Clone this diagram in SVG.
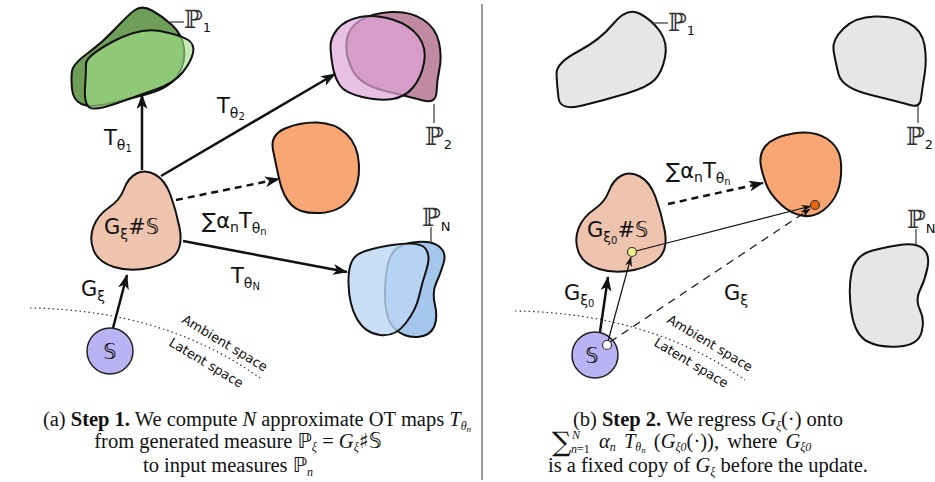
<svg xmlns="http://www.w3.org/2000/svg" width="935" height="482" viewBox="0 0 935 482">
<defs>
<marker id="ah" markerUnits="userSpaceOnUse" markerWidth="15" markerHeight="11" viewBox="0 0 15 11" refX="14" refY="5.5" orient="auto"><path d="M0,0 L15,5.5 L0,11 L4,5.5 Z" fill="#111"/></marker>
<marker id="ahs" markerUnits="userSpaceOnUse" markerWidth="10" markerHeight="7" viewBox="0 0 10 7" refX="9.5" refY="3.5" orient="auto"><path d="M0,0 L10,3.5 L0,7 L3,3.5 Z" fill="#111"/></marker>
</defs>
<style>
.blob{stroke:#111;stroke-width:2;stroke-linejoin:round}
.gray{fill:#e6e6e6}
.lbl{font-family:"DejaVu Sans",sans-serif;font-size:21px;fill:#111}
.s1{font-size:14px}
.s2{font-size:10px}
.bb{font-family:"DejaVu Serif",serif;font-size:25px;fill:#333}
.sub{font-family:"DejaVu Sans",sans-serif;font-size:13px;fill:#111}
.lead{stroke:#333;stroke-width:1.2;fill:none}
.thick{stroke:#111;stroke-width:2.5;fill:none}
.thin{stroke:#111;stroke-width:1.2;fill:none}
.dot{stroke:#333;stroke-width:1.2;fill:none;stroke-dasharray:1.5 3}
.sp{font-family:"DejaVu Sans",sans-serif;font-size:13px;fill:#111}
.cap{font-family:"Liberation Serif",serif;font-size:20.5px;fill:#111}
.ds{font-family:"DejaVu Sans",sans-serif}
.it{font-style:italic}
.cs{font-style:italic;font-size:12px}
</style>
<rect width="935" height="482" fill="#fff"/>
<line x1="482" y1="4" x2="482" y2="480" stroke="#999" stroke-width="2"/>

<!-- LEFT PANEL -->
<g id="P1-left">
<path class="blob" fill="#6e9e58" d="M 88 53 Q 103 42 115.5 28.5 Q 128 15 135 10 Q 142 5 152 10.5 Q 162 16 172 25 Q 182 34 184 48 Q 186 62 178 75 Q 170 88 147.5 94 Q 125 100 107.5 104 Q 90 108 81.5 104 Q 73 100 72 89 Q 71 78 72 71 Q 73 64 88 53 Z"/>
<path class="blob" fill="#a3e289" fill-opacity="0.64" d="M 113 41.5 Q 140 27 160 31 Q 180 35 187.5 39.5 Q 195 44 193 53 Q 191 62 182.5 72.5 Q 174 83 157 89 Q 140 95 117.5 103 Q 95 111 89.5 107.5 Q 84 104 85 88 Q 86 72 86 64 Q 86 56 113 41.5 Z"/>
<line class="lead" x1="170" y1="22" x2="184" y2="22"/>
<text class="bb" x="184" y="28">ℙ<tspan class="sub" dy="4">1</tspan></text>
</g>
<g id="P2-left">
<path class="blob" fill="#c18aa3" d="M 360 20.5 Q 372 13 391 12 Q 410 11 423 19.5 Q 436 28 439 42.5 Q 442 57 439.5 68.5 Q 437 80 436.5 92 Q 436 104 423 100.5 Q 410 97 385 91 Q 360 85 352.5 70 Q 345 55 346.5 41.5 Q 348 28 360 20.5 Z"/>
<path class="blob" fill="#dea5d7" fill-opacity="0.7" d="M 337.5 29 Q 345 20 360 17 Q 375 14 392.5 19.5 Q 410 25 418.5 36.5 Q 427 48 424 63 Q 421 78 413 87.5 Q 405 97 392.5 99 Q 380 101 362.5 97 Q 345 93 340 85.5 Q 335 78 333 68 Q 331 58 330.5 48 Q 330 38 337.5 29 Z"/>
<line class="lead" x1="434" y1="104" x2="434" y2="123"/>
<text class="bb" x="425" y="145">ℙ<tspan class="sub" dy="4">2</tspan></text>
</g>
<g id="target-left">
<path class="blob" fill="#f8a673" d="M 285 128.5 Q 300 122 317.5 122.5 Q 335 123 346.5 134 Q 358 145 359 165 Q 360 185 350 198.5 Q 340 212 320 213 Q 300 214 291.5 205 Q 283 196 279.5 180.5 Q 276 165 273 150 Q 270 135 285 128.5 Z"/>
</g>
<g id="PN-left">
<path class="blob" fill="#a5c7ee" d="M 412.5 242.5 Q 430 240 438.5 246 Q 447 252 443.5 263.5 Q 440 275 436 283.5 Q 432 292 435 305 Q 438 318 434 327 Q 430 336 417.5 337 Q 405 338 395 329 Q 385 320 385 295 Q 385 270 390 257.5 Q 395 245 412.5 242.5 Z"/>
<path class="blob" fill="#bcd6f5" fill-opacity="0.8" d="M 356.5 255.5 Q 365 249 392.5 245 Q 420 241 425.5 248.5 Q 431 256 426.5 269.5 Q 422 283 419 296.5 Q 416 310 405.5 323.5 Q 395 337 380 335 Q 365 333 357 319 Q 349 305 348.5 283.5 Q 348 262 356.5 255.5 Z"/>
<line class="lead" x1="431" y1="227" x2="431" y2="243"/>
<text class="bb" x="422" y="226">ℙ<tspan class="sub" dy="5">N</tspan></text>
</g>
<g id="G-left">
<path class="blob" fill="#eec4ae" d="M 136.5 173.5 Q 145 169 155 174.5 Q 165 180 170.5 195 Q 176 210 179.5 227.5 Q 183 245 175.5 254.5 Q 168 264 149 268 Q 130 272 114 267 Q 98 262 93.5 250 Q 89 238 93.5 226.5 Q 98 215 109 207.5 Q 120 200 124 189 Q 128 178 136.5 173.5 Z"/>
<text class="lbl" x="104" y="234">G<tspan class="s1" dy="5">ξ</tspan><tspan dy="-5">#𝕊</tspan></text>
</g>
<g id="S-left">
<circle cx="110" cy="351" r="23" fill="#b9b3f3" stroke="#222" stroke-width="1.5"/>
<text class="lbl" x="110" y="359" text-anchor="middle">𝕊</text>
</g>
<g id="connectors-left">
<path class="dot" d="M 30 308 Q 165 310 260 378"/>
<line class="thick" x1="142" y1="170" x2="142" y2="95" marker-end="url(#ah)"/>
<line class="thick" x1="161" y1="176" x2="335" y2="74" marker-end="url(#ah)"/>
<line class="thick" x1="176" y1="200" x2="279" y2="179" stroke-dasharray="7 5" marker-end="url(#ah)"/>
<line class="thick" x1="183" y1="241" x2="347" y2="272" marker-end="url(#ah)"/>
<line class="thick" x1="113" y1="328" x2="127" y2="275" marker-end="url(#ah)"/>
<text class="lbl" x="104" y="145">T<tspan class="s1" dy="5">θ</tspan><tspan class="s2" dy="2">1</tspan></text>
<text class="lbl" x="217" y="113">T<tspan class="s1" dy="5">θ</tspan><tspan class="s2" dy="2">2</tspan></text>
<text class="lbl" x="202" y="228">∑α<tspan class="s1" dy="4">n</tspan><tspan dy="-4">T</tspan><tspan class="s1" dy="5">θ</tspan><tspan class="s2" dy="2">n</tspan></text>
<text class="lbl" x="231" y="283">T<tspan class="s1" dy="5">θ</tspan><tspan class="s2" dy="2">N</tspan></text>
<text class="lbl" x="81" y="296">G<tspan class="s1" dy="5">ξ</tspan></text>
<text class="sp" transform="translate(181,322) rotate(31)">Ambient space</text>
<text class="sp" transform="translate(168,345) rotate(31)">Latent space</text>
</g>

<!-- RIGHT PANEL -->
<g id="P1-right">
<path class="blob gray" d="M 578 51.5 Q 600 40 613.5 23.5 Q 627 7 639.5 13.5 Q 652 20 660 31.5 Q 668 43 665 57.5 Q 662 72 655 79.5 Q 648 87 626.5 93.5 Q 605 100 582.5 105.5 Q 560 111 558.5 98 Q 557 85 556.5 74 Q 556 63 578 51.5 Z"/>
<line class="lead" x1="653" y1="23" x2="668" y2="23"/>
<text class="bb" x="668" y="31">ℙ<tspan class="sub" dy="4">1</tspan></text>
</g>
<g id="P2-right">
<path class="blob gray" d="M 843.5 28.5 Q 855 17 875 16.5 Q 895 16 908.5 23 Q 922 30 924.5 45 Q 927 60 924.5 75 Q 922 90 921 99 Q 920 108 910 105 Q 900 102 871 95 Q 842 88 838.5 74 Q 835 60 833.5 50 Q 832 40 843.5 28.5 Z"/>
<line class="lead" x1="918" y1="106" x2="918" y2="123"/>
<text class="bb" x="906" y="145">ℙ<tspan class="sub" dy="4">2</tspan></text>
</g>
<g id="target-right">
<path class="blob" fill="#f8a673" d="M 765.5 146 Q 773 137 793 133.5 Q 813 130 826.5 138.5 Q 840 147 841 163.5 Q 842 180 837.5 191.5 Q 833 203 823 210.5 Q 813 218 801.5 215.5 Q 790 213 781.5 205 Q 773 197 769 190 Q 765 183 761.5 169 Q 758 155 765.5 146 Z"/>
</g>
<g id="PN-right">
<path class="blob gray" d="M 872.5 250.5 Q 890 246 903.5 244.5 Q 917 243 923.5 249 Q 930 255 927.5 267.5 Q 925 280 920 290 Q 915 300 920 310 Q 925 320 921.5 332.5 Q 918 345 899 346.5 Q 880 348 867.5 341.5 Q 855 335 851.5 312.5 Q 848 290 851.5 272.5 Q 855 255 872.5 250.5 Z"/>
<line class="lead" x1="916" y1="229" x2="916" y2="244"/>
<text class="bb" x="907" y="228">ℙ<tspan class="sub" dy="5">N</tspan></text>
</g>
<g id="G-right">
<path class="blob" fill="#eec4ae" transform="translate(485,2)" d="M 136.5 173.5 Q 145 169 155 174.5 Q 165 180 170.5 195 Q 176 210 179.5 227.5 Q 183 245 175.5 254.5 Q 168 264 149 268 Q 130 272 114 267 Q 98 262 93.5 250 Q 89 238 93.5 226.5 Q 98 215 109 207.5 Q 120 200 124 189 Q 128 178 136.5 173.5 Z"/>
<text class="lbl" x="587" y="237">G<tspan class="s1" dy="5">ξ</tspan><tspan class="s2" dy="2">0</tspan><tspan dy="-7">#𝕊</tspan></text>
</g>
<g id="S-right">
<circle cx="595" cy="355" r="23" fill="#b9b3f3" stroke="#222" stroke-width="1.5"/>
<text class="lbl" x="592" y="363" text-anchor="middle">𝕊</text>
</g>
<g id="connectors-right">
<path class="dot" d="M 515 311 Q 650 313 745 380"/>
<line class="thick" x1="600" y1="332" x2="608" y2="277" marker-end="url(#ah)"/>
<line class="thick" x1="668" y1="204" x2="763" y2="183" stroke-dasharray="7 5" marker-end="url(#ah)"/>
<line class="thin" x1="607" y1="345" x2="631" y2="257" marker-end="url(#ahs)"/>
<line class="thin" x1="632" y1="252" x2="811" y2="206" marker-end="url(#ahs)"/>
<line class="thin" x1="610" y1="342" x2="810" y2="209" stroke-dasharray="8 6" marker-end="url(#ahs)"/>
<text class="lbl" x="666" y="178">∑α<tspan class="s1" dy="4">n</tspan><tspan dy="-4">T</tspan><tspan class="s1" dy="5">θ</tspan><tspan class="s2" dy="2">n</tspan></text>
<text class="lbl" x="564" y="300">G<tspan class="s1" dy="5">ξ</tspan><tspan class="s2" dy="2">0</tspan></text>
<text class="lbl" x="724" y="300">G<tspan class="s1" dy="5">ξ</tspan></text>
<text class="sp" transform="translate(666,322) rotate(31)">Ambient space</text>
<text class="sp" transform="translate(653,345) rotate(31)">Latent space</text>
<circle cx="632" cy="252" r="4.5" fill="#eef08a" stroke="#333" stroke-width="1.2"/>
<circle cx="815" cy="205" r="4.5" fill="#e8650f" stroke="#333" stroke-width="1.2"/>
<circle cx="607" cy="345" r="4.5" fill="#fff" stroke="#333" stroke-width="1.2"/>
</g>

<!-- CAPTIONS -->
<g id="caption-a" class="cap">
<text x="257" y="426" text-anchor="middle">(a) <tspan font-weight="bold">Step 1.</tspan> We compute <tspan class="it">N</tspan> approximate OT maps <tspan class="it">T</tspan><tspan class="cs" dy="4">θ</tspan><tspan font-style="italic" font-size="9" dy="2">n</tspan></text>
<text x="238" y="448" text-anchor="middle">from generated measure <tspan class="ds">ℙ</tspan><tspan class="cs" dy="3">ξ</tspan><tspan dy="-3"> = </tspan><tspan class="it">G</tspan><tspan class="cs" dy="3">ξ</tspan><tspan dy="-3" class="ds">♯𝕊</tspan></text>
<text x="228" y="472" text-anchor="middle">to input measures <tspan class="ds">ℙ</tspan><tspan class="cs" dy="4">n</tspan></text>
</g>
<g id="caption-b" class="cap">
<text x="708" y="426" text-anchor="middle">(b) <tspan font-weight="bold">Step 2.</tspan> We regress <tspan class="it">G</tspan><tspan class="cs" dy="4">ξ</tspan><tspan dy="-4">(·) onto</tspan></text>
<text x="552" y="451" font-family="DejaVu Serif, serif" font-size="27">∑</text>
<text x="572" y="439" class="cs">N</text>
<text x="571" y="453" class="cs">n<tspan font-style="normal">=1</tspan></text>
<text x="599" y="448" word-spacing="3"><tspan class="it">α</tspan><tspan class="cs" dy="3">n</tspan><tspan dy="-3" class="it"> T</tspan><tspan class="cs" dy="3">θ</tspan><tspan font-style="italic" font-size="9" dy="2">n</tspan><tspan dy="-5"> (</tspan><tspan class="it">G</tspan><tspan class="cs" dy="3">ξ0</tspan><tspan dy="-3">(·)), where </tspan><tspan class="it">G</tspan><tspan class="cs" dy="3">ξ0</tspan></text>
<text x="708" y="472" text-anchor="middle">is a fixed copy of <tspan class="it">G</tspan><tspan class="cs" dy="4">ξ</tspan><tspan dy="-4"> before the update.</tspan></text>
</g>
</svg>
